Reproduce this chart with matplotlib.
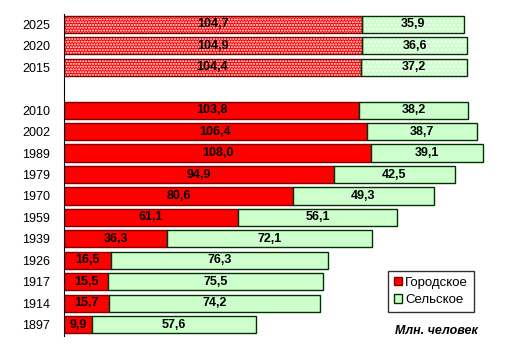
import matplotlib
matplotlib.use("Agg")
import matplotlib.pyplot as plt
from matplotlib.patches import Patch
import numpy as np

# population of Russia, mln people (top to bottom)
years = ["2025", "2020", "2015", "2010", "2002", "1989", "1979", "1970",
         "1959", "1939", "1926", "1917", "1914", "1897"]
urban = [104.7, 104.9, 104.4, 103.8, 106.4, 108.0, 94.9, 80.6,
         61.1, 36.3, 16.5, 15.5, 15.7, 9.9]
rural = [35.9, 36.6, 37.2, 38.2, 38.7, 39.1, 42.5, 49.3,
         56.1, 72.1, 76.3, 75.5, 74.2, 57.6]
n_forecast = 3  # first three rows are projections

RED = "#ff0000"
GREEN = "#ccffcc"
RED_EDGE = "#800000"
GREEN_EDGE = "#003300"

plt.rcParams["font.family"] = ["Liberation Sans", "DejaVu Sans"]
plt.rcParams["hatch.linewidth"] = 1.0

fig = plt.figure(figsize=(5.13, 3.58), dpi=100)
ax = fig.add_axes([64 / 513, 22.5 / 358, 441 / 513, 322 / 358])

# slot positions, one empty slot between projections and census data
pos = []
for i in range(len(years)):
    pos.append(i if i < n_forecast else i + 1)
pos = np.array(pos)
h = 0.8

for i, y in enumerate(pos):
    u, r = urban[i], rural[i]
    if i < n_forecast:
        ax.barh(y, u, height=h, color=RED, edgecolor="white", hatch="......", linewidth=0)
        ax.barh(y, r, left=u, height=h, color=GREEN, edgecolor="white", hatch="....", linewidth=0)
        ax.barh(y, u, height=h, fill=False, edgecolor=RED_EDGE, linewidth=1)
        ax.barh(y, r, left=u, height=h, fill=False, edgecolor=GREEN_EDGE, linewidth=1)
    else:
        ax.barh(y, u, height=h, color=RED, edgecolor=RED_EDGE, linewidth=1)
        ax.barh(y, r, left=u, height=h, color=GREEN, edgecolor=GREEN_EDGE, linewidth=1)
    ax.text(u / 2, y, f"{u:.1f}".replace(".", ","), ha="center", va="center",
            fontsize=9, fontweight="bold", color="black")
    ax.text(u + r / 2, y, f"{r:.1f}".replace(".", ","), ha="center", va="center",
            fontsize=9, fontweight="bold", color="black")

ax.set_xlim(0, 155)
ax.set_ylim(len(years) + 0.5, -0.5)
ax.set_yticks(pos)
ax.set_yticklabels(years, fontsize=9)
ax.tick_params(axis="y", length=0, pad=10)
ax.set_xticks([])
for s in ["top", "right", "bottom"]:
    ax.spines[s].set_visible(False)
ax.spines["left"].set_color("black")

handles = [Patch(facecolor=RED, edgecolor=RED_EDGE, label="Городское"),
           Patch(facecolor=GREEN, edgecolor=GREEN_EDGE, label="Сельское")]
leg = fig.legend(handles=handles, loc="upper left", bbox_to_anchor=(388 / 513, 1 - 271 / 358),
                 borderaxespad=0, fontsize=9.5, frameon=True, fancybox=False, handlelength=0.6,
                 handleheight=0.6, handletextpad=0.25, borderpad=0.45, labelspacing=0.4)
leg.get_frame().set_edgecolor("black")
leg.get_frame().set_linewidth(1)

fig.text(478 / 513, 1 - 331 / 358, "Млн. человек", ha="right", va="center",
         fontsize=9, fontweight="bold", fontstyle="italic")

fig.savefig("out.png", dpi=100)
